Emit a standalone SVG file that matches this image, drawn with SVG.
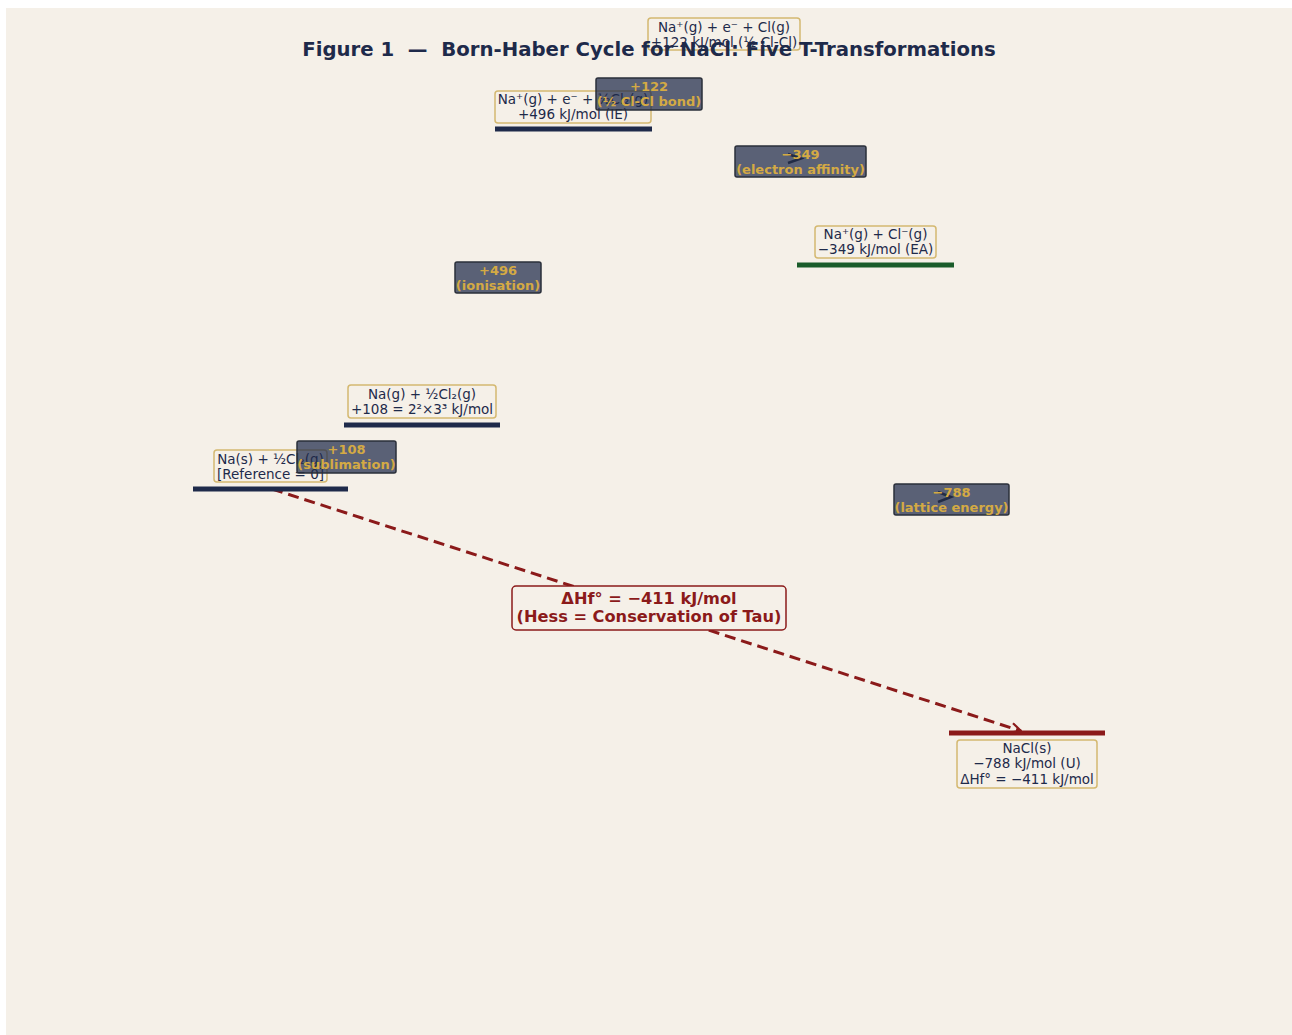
<svg xmlns="http://www.w3.org/2000/svg" width="1292" height="1035" viewBox="0 0 1292 1035">
<defs>
<style>
.lvl{stroke-width:5;fill:none}
.lbox{fill:#f5f0e8;stroke:#d4b870;stroke-width:1.5}
.ltxt{font-family:"DejaVu Sans",sans-serif;font-size:13.5px;fill:#1e2a4a;text-anchor:middle}
.tbox{fill:#1e2a4a;fill-opacity:0.72;stroke:#2a2f3a;stroke-width:1.5}
.ttxt{font-family:"DejaVu Sans",sans-serif;font-size:13px;font-weight:bold;fill:#d4aa44;text-anchor:middle}
.chev{fill:none;stroke:#2a2f3a;stroke-width:2.5}
.hess{font-family:"DejaVu Sans",sans-serif;font-size:16.2px;font-weight:bold;fill:#8b1a1a;text-anchor:middle}
</style>
<marker id="ah" viewBox="0 0 12 12" refX="11" refY="6" markerWidth="12" markerHeight="12" markerUnits="userSpaceOnUse" orient="auto">
<path d="M1,1 L11,6 L1,11" fill="none" stroke="#8b1a1a" stroke-width="2.2"/>
</marker>
</defs>
<rect x="0" y="0" width="1292" height="1035" fill="#ffffff"/>
<rect x="6" y="8" width="1286" height="1027" fill="#f5f0e8"/>

<g id="connectors">
<line x1="272" y1="489" x2="1021" y2="731" stroke="#8b1a1a" stroke-width="3" stroke-dasharray="11,6" marker-end="url(#ah)"/>
<path class="chev" d="M788,154 L801,158.5 L788,163"/>
<path class="chev" d="M938,492 L951,497 L938,502"/>
</g>

<g id="level-nas">
<line class="lvl" x1="193" y1="489" x2="348" y2="489" stroke="#1e2a4a"/>
<rect class="lbox" x="214" y="450" width="113" height="32" rx="3"/>
<text class="ltxt" x="270.5" y="464">Na(s) + ½Cl₂(g)</text>
<text class="ltxt" x="270.5" y="479">[Reference = 0]</text>
</g>

<g id="level-nag">
<line class="lvl" x1="344" y1="425" x2="500" y2="425" stroke="#1e2a4a"/>
<rect class="lbox" x="348" y="385" width="148" height="33" rx="3"/>
<text class="ltxt" x="422" y="399">Na(g) + ½Cl₂(g)</text>
<text class="ltxt" x="422" y="414">+108 = 2²×3³ kJ/mol</text>
</g>

<g id="level-naplus">
<line class="lvl" x1="495" y1="129" x2="652" y2="129" stroke="#1e2a4a"/>
<rect class="lbox" x="495" y="91" width="156" height="32" rx="3"/>
<text class="ltxt" x="573" y="104">Na⁺(g) + e⁻ + ½Cl₂(g)</text>
<text class="ltxt" x="573" y="119">+496 kJ/mol (IE)</text>
</g>

<g id="level-cl">
<rect class="lbox" x="648" y="18" width="152" height="32" rx="3"/>
<text class="ltxt" x="724" y="32">Na⁺(g) + e⁻ + Cl(g)</text>
<text class="ltxt" x="724" y="47">+122 kJ/mol (½ Cl-Cl)</text>
</g>

<text x="649" y="56" xml:space="preserve" style="white-space:pre" font-family="DejaVu Sans, sans-serif" font-size="19.7" font-weight="bold" fill="#1e2a4a" text-anchor="middle">Figure 1  —  Born-Haber Cycle for NaCl: Five T-Transformations</text>

<g id="level-ions">
<line class="lvl" x1="797" y1="265" x2="954" y2="265" stroke="#1a5c2a"/>
<rect class="lbox" x="815" y="226" width="121" height="32" rx="3"/>
<text class="ltxt" x="875.5" y="239">Na⁺(g) + Cl⁻(g)</text>
<text class="ltxt" x="875.5" y="254">−349 kJ/mol (EA)</text>
</g>

<g id="level-nacl">
<line class="lvl" x1="949" y1="733" x2="1105" y2="733" stroke="#8b1a1a"/>
<rect class="lbox" x="957" y="740" width="140" height="48" rx="3"/>
<text class="ltxt" x="1027" y="753">NaCl(s)</text>
<text class="ltxt" x="1027" y="768">−788 kJ/mol (U)</text>
<text class="ltxt" x="1027" y="784">ΔHf° = −411 kJ/mol</text>
</g>

<g id="step-sublimation">
<rect class="tbox" x="297" y="441" width="99" height="32" rx="2"/>
<text class="ttxt" x="346.5" y="454">+108</text>
<text class="ttxt" x="346.5" y="469">(sublimation)</text>
</g>

<g id="step-ionisation">
<rect class="tbox" x="455" y="262" width="86" height="31" rx="2"/>
<text class="ttxt" x="498" y="275">+496</text>
<text class="ttxt" x="498" y="290">(ionisation)</text>
</g>

<g id="step-bond">
<rect class="tbox" x="596" y="78" width="106" height="32" rx="2"/>
<text class="ttxt" x="649" y="91">+122</text>
<text class="ttxt" x="649" y="106">(½ Cl-Cl bond)</text>
</g>

<g id="step-ea">
<rect class="tbox" x="735" y="146" width="131" height="31" rx="2"/>
<text class="ttxt" x="800.5" y="159">−349</text>
<text class="ttxt" x="800.5" y="174">(electron affinity)</text>
</g>

<g id="step-lattice">
<rect class="tbox" x="894" y="484" width="115" height="31" rx="2"/>
<text class="ttxt" x="951.5" y="497">−788</text>
<text class="ttxt" x="951.5" y="512">(lattice energy)</text>
</g>

<g id="hess-label">
<rect x="512" y="586" width="274" height="44" rx="4" fill="#f5f0e8" stroke="#8b1a1a" stroke-width="1.5"/>
<text class="hess" x="649" y="604">ΔHf° = −411 kJ/mol</text>
<text class="hess" x="649" y="622">(Hess = Conservation of Tau)</text>
</g>
</svg>
